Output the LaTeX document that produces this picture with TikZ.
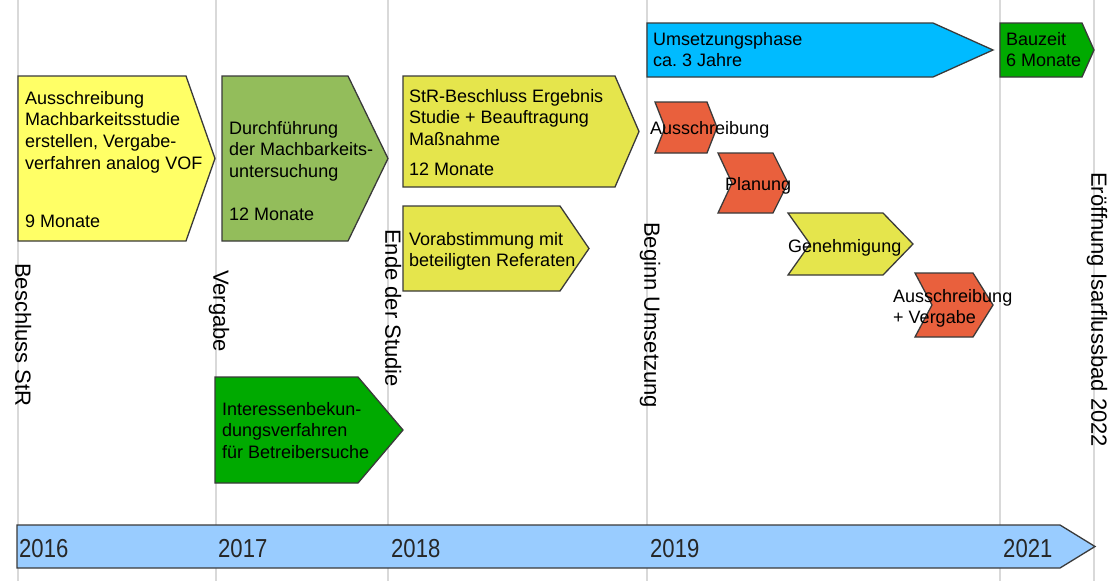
\documentclass[tikz,border=0pt]{standalone}
\usepackage{fontspec}
\setmainfont{Liberation Sans}
\newfontfamily\yearfont[FakeStretch=0.85]{Liberation Sans}
\frenchspacing

\definecolor{gridgray}{HTML}{D9D9D9}
\definecolor{edgegray}{HTML}{3A3A3A}
\definecolor{paleyellow}{HTML}{FFFF66}
\definecolor{olivegreen}{HTML}{93BD5B}
\definecolor{mustard}{HTML}{E5E54C}
\definecolor{brightgreen}{HTML}{00AA00}
\definecolor{skycyan}{HTML}{00BBFF}
\definecolor{brickorange}{HTML}{E9603D}
\definecolor{barblue}{HTML}{99CCFF}

% forces a fixed first-line height so north west anchors sit at baseline - 16pt
\newcommand\topstrut{\rule{0pt}{16pt}}

% pentagon arrow: fill, left, top, body right, tip x, bottom
\newcommand\pentbox[6]{%
  \draw[outline, fill=#1] (#2,#3) -- (#4,#3) -- (#5,{(#3+#6)/2}) -- (#4,#6) -- (#2,#6) -- cycle;}
% chevron: fill, left, top, tip x, bottom, tip depth, notch depth
\newcommand\chevbox[7]{%
  \draw[outline, fill=#1] (#2,#3) -- ({#4-#6},#3) -- (#4,{(#3+#5)/2}) -- ({#4-#6},#5)
    -- (#2,#5) -- ({#2+#7},{(#3+#5)/2}) -- cycle;}

\begin{document}
\begin{tikzpicture}[x=1pt, y=-1pt,
  gridline/.style={draw=gridgray, line width=2pt},
  outline/.style={draw=edgegray, line width=1.3pt, line join=miter},
  boxtext/.style={anchor=north west, inner sep=0pt, align=left,
    font=\fontsize{18}{21.7}\selectfont, text=black},
  milestone/.style={rotate=-90, anchor=mid west, inner sep=0pt,
    font=\fontsize{22}{26}\selectfont, text=black},
  yearlabel/.style={anchor=base west, inner sep=0pt,
    font=\yearfont\fontsize{26}{30}\selectfont, text=black!85}]

\useasboundingbox (0,0) rectangle (1113,581);
\fill[white] (0,0) rectangle (1113,581);

% vertical milestone lines
\foreach \gx in {18,216,388,647,1000,1094}
  \draw[gridline] (\gx,0) -- (\gx,581);

% time axis
\pentbox{barblue}{17}{525}{1060}{1095}{568}

% study phase
\pentbox{paleyellow}{18}{76}{186}{215}{241}
\pentbox{olivegreen}{222}{76}{348}{388}{241}
\pentbox{brightgreen}{215}{377}{358}{403}{483}
\pentbox{mustard}{403}{76}{615}{639}{187}
\pentbox{mustard}{403}{206}{560}{589}{291}

% implementation phase
\pentbox{skycyan}{647}{23}{933}{993}{77}
\pentbox{brightgreen}{1000}{23}{1082}{1094}{77}
\chevbox{brickorange}{655}{102}{717}{153}{10}{10}
\chevbox{brickorange}{718}{153}{788}{213}{15}{14}
\chevbox{mustard}{788}{213}{913}{275}{30}{22}
\chevbox{brickorange}{915}{273}{993}{337}{20}{17}

% milestone labels
\node[milestone] (m2016) at (18,263) {Beschluss StR};
\node[milestone] (m2017) at (216,270) {Vergabe};
\node[milestone] (m2018) at (388,229) {Ende der Studie};
\node[milestone] (m2019) at (647,222) {Beginn Umsetzung};
\node[milestone] (m2022) at (1094,172) {Eröffnung Isarflussbad 2022};

% box texts (node y = first baseline - 16)
\node[boxtext] (t1) at (25,88) {\topstrut Ausschreibung\\Machbarkeitsstudie\\erstellen, Vergabe-\\verfahren analog VOF};
\node[boxtext] (t1d) at (25,211) {\topstrut 9 Monate};
\node[boxtext] (t2) at (229,118) {\topstrut Durchführung\\der Machbarkeits-\\untersuchung};
\node[boxtext] (t2d) at (229,204) {\topstrut 12 Monate};
\node[boxtext] (t3) at (409,86) {\topstrut StR-Beschluss Ergebnis\\Studie + Beauftragung\\Maßnahme};
\node[boxtext] (t3d) at (409,159) {\topstrut 12 Monate};
\node[boxtext] (t4) at (409,229) {\topstrut Vorabstimmung mit\\beteiligten Referaten};
\node[boxtext] (t5) at (222,399) {\topstrut Interessenbekun-\\dungsverfahren\\für Betreibersuche};
\node[boxtext] (t6) at (653,29) {\topstrut Umsetzungsphase\\ca.\ 3 Jahre};
\node[boxtext] (t7) at (1006,29) {\topstrut Bauzeit\\6 Monate};
\node[boxtext] (c1) at (650,118) {\topstrut Ausschreibung};
\node[boxtext] (c2) at (725,174) {\topstrut Planung};
\node[boxtext] (c3) at (788,236) {\topstrut Genehmigung};
\node[boxtext] (c4) at (893,286) {\topstrut Ausschreibung\\+ Vergabe};

% year labels on the time axis
\node[yearlabel] (y2016) at (19,557) {2016};
\node[yearlabel] (y2017) at (218,557) {2017};
\node[yearlabel] (y2018) at (391,557) {2018};
\node[yearlabel] (y2019) at (650,557) {2019};
\node[yearlabel] (y2021) at (1003,557) {2021};
\end{tikzpicture}
\end{document}
